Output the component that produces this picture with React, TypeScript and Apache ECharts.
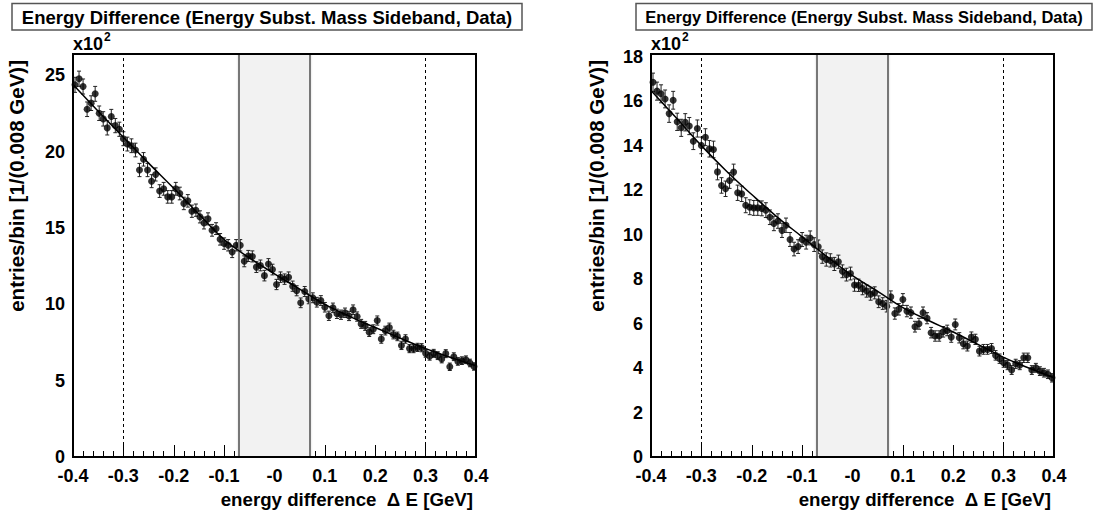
import React, { useEffect, useRef } from "react";
import * as echarts from "echarts";

// ---------- data ----------
const NBINS = 100;
const X_MIN = -0.4;
const BIN_W = 0.008;
const binCenters: number[] = Array.from({ length: NBINS }, (_, i) => X_MIN + BIN_W * (i + 0.5));

const leftCounts: number[] = [
  2438, 2478, 2427, 2278, 2318, 2379, 2252, 2215, 2156, 2230,
  2171, 2147, 2085, 2050, 2039, 2011, 1880, 1950, 1880, 1807,
  1851, 1742, 1757, 1704, 1704, 1757, 1726, 1661, 1678, 1610,
  1617, 1573, 1533, 1560, 1485, 1496, 1426, 1398, 1387, 1343,
  1387, 1387, 1282, 1317, 1314, 1244, 1255, 1188, 1264, 1228,
  1130, 1178, 1165, 1178, 1119, 1089, 1010, 1084, 1036, 1043,
  1014, 1025, 981, 925, 977, 938, 932, 945, 924, 965,
  920, 872, 859, 818, 837, 894, 773, 828, 848, 802,
  790, 731, 773, 710, 710, 718, 716, 679, 660, 679,
  664, 642, 677, 591, 657, 626, 631, 637, 616, 593,
];

const rightCounts: number[] = [
  1685, 1645, 1633, 1610, 1544, 1604, 1507, 1480, 1505, 1488,
  1420, 1477, 1401, 1438, 1386, 1383, 1282, 1221, 1206, 1243,
  1281, 1188, 1183, 1132, 1123, 1120, 1120, 1118, 1110, 1078,
  1050, 1061, 1019, 1042, 978, 935, 946, 978, 966, 985,
  955, 945, 901, 888, 884, 868, 878, 835, 820, 825,
  773, 772, 757, 746, 732, 738, 698, 690, 678, 720,
  645, 664, 708, 656, 649, 586, 599, 649, 624, 559,
  544, 544, 563, 569, 539, 596, 536, 509, 499, 539,
  529, 476, 484, 484, 488, 457, 442, 424, 413, 391,
  419, 413, 446, 446, 391, 401, 386, 379, 372, 356,
];

const fitX: number[] = [-0.4, -0.35, -0.3, -0.25, -0.2, -0.15, -0.1, -0.05, 0, 0.05, 0.1, 0.15, 0.2, 0.25, 0.3, 0.35, 0.4];
const leftFit: number[] = [2440, 2265, 2095, 1925, 1760, 1590, 1425, 1305, 1200, 1100, 1000, 920, 848, 778, 710, 652, 598];
const rightFit: number[] = [1648, 1525, 1400, 1285, 1180, 1080, 990, 900, 815, 745, 672, 615, 562, 505, 448, 400, 356];

const bandEdges: number[] = [-0.075, 0.075];
const sidebandLines: number[] = [-0.3, 0.3];
const xTicks = { min: -0.4, max: 0.4, step: 0.1 };
const leftY = { max: 2640, step: 500 };
const rightY = { max: 1812, step: 200 };

const TITLE = "Energy Difference (Energy Subst. Mass Sideband, Data)";
const X_TITLE = "energy difference  \u0394 E [GeV]";
const Y_TITLE = "entries/bin [1/(0.008 GeV)]";

// ---------- layout ----------
const FONT = '"Liberation Sans", Arial, Helvetica, sans-serif';
const GRID_TOP = 54;
const GRID_SIZE = 403;
const PANELS = [
  { left: 73, titleX: 12, titleW: 510, titleFont: 18.5, yTitleX: 16 },
  { left: 651, titleX: 636, titleW: 456, titleFont: 16.5, yTitleX: 596 },
];

function buildSeries(idx: number, counts: number[], fit: number[]) {
  const pts = binCenters.map((x, i) => [x, counts[i]]);
  const errs = binCenters.map((x, i) => [x, counts[i], Math.sqrt(counts[i])]);
  return [
    {
      type: "line",
      xAxisIndex: idx,
      yAxisIndex: idx,
      data: [],
      z: 1,
      silent: true,
      markArea: {
        silent: true,
        itemStyle: { color: "#f2f2f2" },
        data: [[{ xAxis: bandEdges[0] }, { xAxis: bandEdges[1] }]],
      },
      markLine: {
        silent: true,
        symbol: ["none", "none"],
        label: { show: false },
        data: [
          ...sidebandLines.map((v) => ({ xAxis: v, lineStyle: { type: [3, 3], color: "#000", width: 1 } })),
          ...bandEdges.map((v) => ({ xAxis: v, lineStyle: { type: "solid", color: "#777", width: 2 } })),
        ],
      },
    },
    {
      type: "custom",
      xAxisIndex: idx,
      yAxisIndex: idx,
      z: 3,
      data: errs,
      encode: { x: 0, y: 1 },
      renderItem: (params: any, api: any) => {
        const x = api.value(0);
        const y = api.value(1);
        const e = api.value(2);
        const top = api.coord([x, y + e]);
        const bot = api.coord([x, y - e]);
        const st = { stroke: "#222", lineWidth: 1 };
        return {
          type: "group",
          children: [
            { type: "line", shape: { x1: top[0], y1: top[1], x2: bot[0], y2: bot[1] }, style: st },
            { type: "line", shape: { x1: top[0] - 2, y1: top[1], x2: top[0] + 2, y2: top[1] }, style: st },
            { type: "line", shape: { x1: bot[0] - 2, y1: bot[1], x2: bot[0] + 2, y2: bot[1] }, style: st },
          ],
        };
      },
    },
    {
      type: "scatter",
      xAxisIndex: idx,
      yAxisIndex: idx,
      z: 4,
      data: pts,
      symbol: "circle",
      symbolSize: 7,
      itemStyle: { color: "#000" },
    },
    {
      type: "line",
      xAxisIndex: idx,
      yAxisIndex: idx,
      z: 5,
      data: fitX.map((x, i) => [x, fit[i]]),
      smooth: 0.4,
      showSymbol: false,
      symbol: "none",
      lineStyle: { color: "#000", width: 1.5 },
    },
  ];
}

function xAxis(idx: number) {
  return {
    type: "value",
    gridIndex: idx,
    min: xTicks.min,
    max: xTicks.max,
    interval: xTicks.step,
    axisLine: { show: true, lineStyle: { color: "#000", width: 2 } },
    axisTick: { show: true, inside: true, length: 12, lineStyle: { color: "#000", width: 1 } },
    minorTick: { show: true, splitNumber: 5, length: 6, lineStyle: { color: "#000", width: 1 } },
    splitLine: { show: false },
    axisLabel: {
      color: "#000",
      fontSize: 18,
      fontWeight: "bold",
      fontFamily: FONT,
      margin: 10,
      showMinLabel: true,
      showMaxLabel: true,
      formatter: (v: number) => (Math.abs(v) < 1e-9 ? "-0" : v.toFixed(1)),
    },
  };
}

function yAxis(idx: number, cfg: { max: number; step: number }, minorSplit: number) {
  return {
    type: "value",
    gridIndex: idx,
    min: 0,
    max: cfg.max,
    interval: cfg.step,
    axisLine: { show: true, lineStyle: { color: "#000", width: 2 } },
    axisTick: { show: true, inside: true, length: 12, lineStyle: { color: "#000", width: 1 } },
    minorTick: { show: true, splitNumber: minorSplit, length: 6, lineStyle: { color: "#000", width: 1 } },
    splitLine: { show: false },
    axisLabel: {
      color: "#000",
      fontSize: 18,
      fontWeight: "bold",
      fontFamily: FONT,
      margin: 8,
      formatter: (v: number) => (Math.abs(v % cfg.step) < 1e-6 ? String(Math.round(v / 100)) : ""),
    },
  };
}

function panelGraphics(i: number) {
  const p = PANELS[i];
  return [
    {
      type: "rect",
      z: 100,
      silent: true,
      shape: { x: p.left, y: GRID_TOP, width: GRID_SIZE, height: GRID_SIZE },
      style: { fill: "none", stroke: "#000", lineWidth: 2 },
    },
    {
      type: "rect",
      z: 100,
      shape: { x: p.titleX, y: 3.5, width: p.titleW, height: 26.5 },
      style: { fill: "#fff", stroke: "#555", lineWidth: 1.5 },
    },
    {
      type: "text",
      z: 101,
      x: p.titleX + p.titleW / 2,
      y: 17,
      style: { text: TITLE, fill: "#000", font: `bold ${p.titleFont}px ${FONT}`, verticalAlign: "middle", align: "center" },
    },
    {
      type: "text",
      z: 101,
      x: p.left,
      y: 44,
      style: { text: "x10", fill: "#000", font: `bold 18px ${FONT}`, verticalAlign: "middle", align: "left" },
    },
    {
      type: "text",
      z: 101,
      x: p.left + 31,
      y: 37,
      style: { text: "2", fill: "#000", font: `bold 12px ${FONT}`, verticalAlign: "middle", align: "left" },
    },
    {
      type: "text",
      z: 101,
      x: p.left + GRID_SIZE - 3,
      y: 499,
      style: { text: X_TITLE, fill: "#000", font: `bold 18.7px ${FONT}`, verticalAlign: "middle", align: "right" },
    },
    {
      type: "text",
      z: 101,
      x: p.yTitleX,
      y: 60,
      rotation: Math.PI / 2,
      style: { text: Y_TITLE, fill: "#000", font: `bold 20.5px ${FONT}`, verticalAlign: "middle", align: "right" },
    },
  ];
}

export default function App() {
  const ref = useRef<HTMLDivElement>(null);
  useEffect(() => {
    if (!ref.current) return;
    const chart = echarts.init(ref.current, null, { renderer: "svg" });
    chart.setOption({
      animation: false,
      backgroundColor: "#fff",
      textStyle: { fontFamily: FONT },
      grid: PANELS.map((p) => ({ left: p.left, top: GRID_TOP, width: GRID_SIZE, height: GRID_SIZE, containLabel: false })),
      xAxis: [xAxis(0), xAxis(1)],
      yAxis: [yAxis(0, leftY, 2), yAxis(1, rightY, 4)],
      series: [...buildSeries(0, leftCounts, leftFit), ...buildSeries(1, rightCounts, rightFit)],
      graphic: [...panelGraphics(0), ...panelGraphics(1)],
    });
    return () => chart.dispose();
  }, []);
  return (
    <div
      ref={ref}
      style={{ position: "absolute", left: 0, top: 0, width: 1098, height: 513 }}
    />
  );
}
